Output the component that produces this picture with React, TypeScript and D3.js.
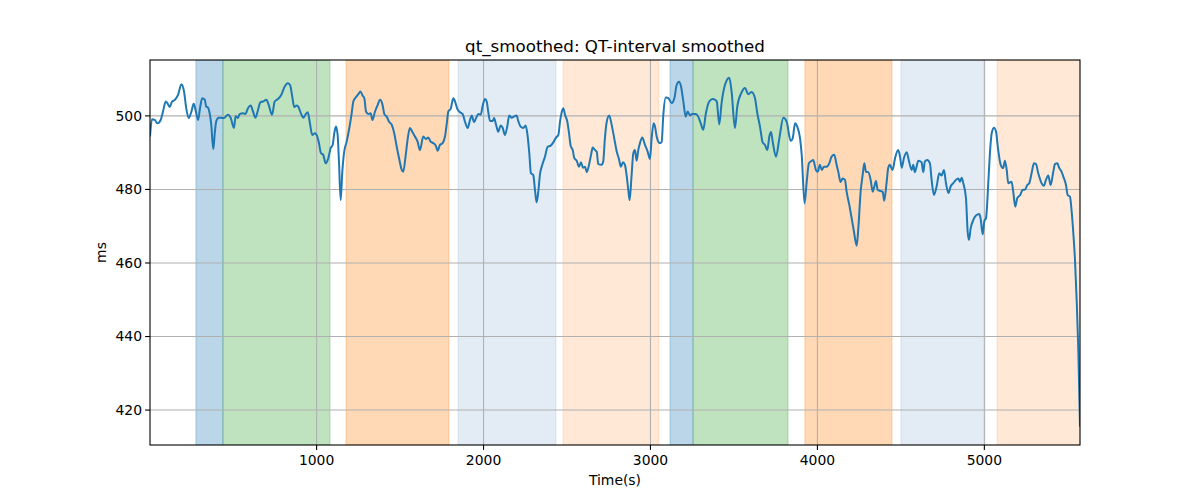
import * as d3 from "d3";

const WIDTH = 1200;
const HEIGHT = 500;
const MARGIN = { top: 60, right: 120, bottom: 55, left: 150 };

// time (s) of each sample of the smoothed QT trace
const times = [
  2, 14, 30, 46, 66, 80, 96, 106, 120, 134, 150, 170, 190, 206, 219, 234, 249, 264, 276, 290,
  303, 315, 330, 339, 349, 361, 369, 381, 390, 399, 414, 429, 445, 469, 485, 505, 515, 529, 539, 559,
  573, 589, 605, 619, 633, 649, 663, 679, 699, 713, 733, 749, 769, 788, 809, 827, 841, 854, 866, 881,
  890, 906, 920, 935, 947, 960, 974, 990, 1004, 1014, 1026, 1040, 1054, 1070, 1084, 1096, 1106, 1116, 1126, 1134,
  1144, 1154, 1164, 1180, 1196, 1210, 1220, 1234, 1250, 1262, 1276, 1286, 1296, 1310, 1324, 1334, 1350, 1366, 1380, 1394,
  1406, 1420, 1434, 1450, 1465, 1480, 1494, 1510, 1519, 1534, 1546, 1559, 1573, 1589, 1605, 1619, 1639, 1655, 1669, 1683,
  1699, 1715, 1725, 1739, 1755, 1769, 1779, 1789, 1803, 1819, 1831, 1843, 1859, 1875, 1889, 1905, 1919, 1929, 1943, 1955,
  1969, 1983, 1995, 2009, 2019, 2028, 2039, 2055, 2063, 2075, 2088, 2103, 2115, 2128, 2142, 2154, 2169, 2182, 2198, 2208,
  2222, 2238, 2252, 2262, 2274, 2284, 2298, 2308, 2318, 2328, 2338, 2352, 2368, 2384, 2402, 2418, 2434, 2448, 2458, 2472,
  2478, 2488, 2502, 2512, 2522, 2534, 2544, 2558, 2572, 2584, 2596, 2608, 2618, 2632, 2644, 2654, 2668, 2678, 2687, 2708,
  2717, 2727, 2738, 2753, 2767, 2783, 2798, 2811, 2823, 2835, 2847, 2857, 2867, 2875, 2887, 2897, 2907, 2917, 2927, 2937,
  2951, 2967, 2983, 2997, 3007, 3019, 3027, 3037, 3047, 3057, 3067, 3077, 3091, 3107, 3127, 3143, 3157, 3171, 3183, 3197,
  3211, 3223, 3237, 3250, 3272, 3286, 3301, 3316, 3332, 3352, 3373, 3386, 3397, 3412, 3426, 3446, 3472, 3486, 3506, 3520,
  3546, 3566, 3586, 3606, 3626, 3640, 3656, 3672, 3686, 3700, 3712, 3722, 3732, 3752, 3772, 3796, 3816, 3840, 3852, 3866,
  3879, 3896, 3906, 3923, 3936, 3949, 3966, 3975, 3991, 4002, 4015, 4026, 4039, 4055, 4071, 4085, 4101, 4115, 4125, 4139,
  4151, 4165, 4175, 4191, 4205, 4219, 4235, 4245, 4259, 4271, 4281, 4291, 4305, 4319, 4331, 4341, 4351, 4361, 4375, 4391,
  4400, 4415, 4424, 4434, 4450, 4465, 4484, 4495, 4505, 4518, 4535, 4548, 4565, 4574, 4584, 4594, 4604, 4624, 4634, 4644,
  4658, 4674, 4684, 4698, 4714, 4730, 4744, 4758, 4770, 4785, 4798, 4814, 4830, 4844, 4854, 4864, 4874, 4890, 4900, 4908,
  4918, 4934, 4950, 4970, 4978, 4990, 5000, 5010, 5024, 5034, 5044, 5058, 5070, 5083, 5098, 5113, 5123, 5134, 5143, 5163,
  5173, 5185, 5197, 5215, 5230, 5243, 5257, 5269, 5283, 5297, 5309, 5323, 5343, 5357, 5369, 5383, 5397, 5413, 5423, 5437,
  5449, 5463, 5473, 5489, 5499, 5513, 5523, 5533, 5543, 5553, 5563, 5573,
];

// QT interval (ms)
const qt = [
  494.4, 499.1, 498.9, 498.0, 498.9, 501.2, 503.9, 503.5, 502.4, 503.9, 504.3, 505.7, 508.6, 506.6, 502.1, 499.4, 501.0, 503.3, 501.4, 498.9,
  502.5, 504.8, 504.4, 502.5, 502.3, 500.3, 497.6, 491.0, 495.3, 498.6, 499.5, 499.5, 499.4, 500.3, 499.5, 496.7, 500.0, 499.4, 500.5, 500.7,
  500.5, 502.1, 502.8, 501.2, 499.5, 501.6, 503.7, 503.9, 504.4, 503.0, 500.3, 503.9, 504.6, 505.7, 508.0, 508.9, 508.4, 505.3, 502.4, 502.8,
  502.5, 500.7, 499.5, 500.5, 501.0, 498.0, 494.8, 495.3, 494.4, 492.6, 489.9, 489.4, 487.1, 488.5, 491.2, 492.1, 495.3, 497.1, 494.8, 487.6,
  477.1, 484.8, 489.9, 493.0, 496.7, 500.7, 503.9, 505.0, 505.9, 506.6, 505.5, 504.8, 501.2, 500.5, 500.7, 498.9, 501.2, 503.0, 504.4, 503.2,
  500.5, 499.8, 498.4, 497.6, 495.3, 491.6, 488.5, 485.3, 484.8, 489.4, 493.9, 496.7, 495.7, 494.4, 493.0, 490.7, 494.4, 493.7, 494.1, 493.0,
  492.6, 491.8, 490.5, 492.1, 492.6, 494.4, 497.6, 501.2, 501.9, 504.8, 503.7, 501.9, 501.0, 500.5, 498.4, 496.7, 498.9, 500.1, 498.3, 499.4,
  500.5, 500.3, 502.8, 504.6, 503.9, 501.2, 498.6, 498.6, 499.4, 497.6, 495.7, 497.4, 496.7, 494.8, 497.1, 500.1, 499.5, 499.8, 500.1, 498.6,
  497.1, 496.7, 497.4, 495.3, 489.9, 484.4, 483.9, 479.9, 476.5, 479.4, 484.1, 486.7, 488.9, 491.6, 491.9, 492.8, 494.1, 494.8, 498.4, 501.6,
  502.1, 500.3, 498.4, 495.3, 491.9, 490.7, 488.5, 487.8, 486.2, 487.4, 485.9, 486.2, 484.7, 486.7, 489.4, 491.4, 490.7, 490.3, 486.9, 486.7,
  487.6, 493.9, 498.4, 500.1, 497.7, 493.9, 490.3, 488.3, 486.2, 487.4, 486.7, 483.9, 479.9, 477.1, 483.9, 489.8, 490.7, 487.8, 490.7, 492.6,
  494.1, 492.1, 490.3, 488.3, 493.9, 498.0, 497.1, 494.4, 493.0, 492.6, 493.0, 500.3, 505.0, 504.8, 503.5, 504.8, 508.4, 509.3, 508.0, 503.9,
  499.8, 501.2, 500.1, 500.5, 500.5, 499.8, 498.0, 496.2, 500.7, 503.9, 504.6, 504.4, 503.9, 497.7, 503.5, 508.4, 510.4, 506.6, 496.7, 502.5,
  506.4, 507.6, 505.9, 506.5, 504.8, 500.7, 497.1, 492.8, 492.1, 490.7, 494.4, 495.6, 493.0, 488.9, 493.9, 499.5, 498.4, 493.2, 493.9, 498.0,
  497.1, 493.9, 489.4, 476.2, 482.1, 487.1, 487.8, 488.0, 485.3, 484.8, 486.7, 485.3, 486.2, 486.2, 487.1, 488.9, 489.4, 486.7, 484.8, 482.0,
  483.0, 482.6, 479.4, 475.8, 472.2, 468.5, 464.7, 469.4, 479.4, 483.9, 487.1, 484.8, 484.7, 482.6, 479.4, 480.8, 482.3, 479.9, 479.6, 479.4,
  476.9, 482.1, 485.8, 486.7, 485.3, 488.5, 490.7, 488.9, 485.9, 488.5, 490.1, 487.8, 485.3, 486.7, 484.7, 486.2, 487.8, 487.4, 484.7, 487.6,
  488.0, 487.1, 482.6, 478.5, 480.8, 484.4, 483.8, 485.3, 481.7, 479.0, 480.8, 481.7, 482.6, 483.0, 482.1, 483.2, 481.7, 477.6, 468.5, 466.3,
  469.4, 471.7, 472.9, 473.3, 472.0, 467.8, 471.4, 472.2, 482.1, 490.3, 495.3, 496.8, 495.7, 490.7, 486.7, 485.8, 487.8, 485.3, 481.7, 482.1,
  479.4, 475.3, 477.6, 478.5, 479.9, 479.9, 481.2, 481.7, 484.4, 487.1, 486.9, 484.4, 481.7, 481.0, 482.6, 483.8, 481.2, 484.8, 486.9, 487.1,
  485.8, 484.8, 483.5, 481.2, 478.5, 478.0, 474.0, 468.1, 460.8, 449.9, 436.3, 415.5,
];

// shaded segments: start, end, kind
const spanStart = [277, 439, 1176, 1847, 2476, 3117, 3255, 3925, 4500, 5076];
const spanEnd = [439, 1080, 1793, 2434, 3051, 3255, 3824, 4447, 5004, 5573];
const spanKind = ["blue", "green", "orange", "paleblue", "paleorange", "blue", "green", "orange", "paleblue", "paleorange"];

const xTicks = [1000, 2000, 3000, 4000, 5000];
const yTicks = [420, 440, 460, 480, 500];

const spanFill: Record<string, string> = {
  blue: "rgba(31,119,180,0.3)",
  green: "rgba(44,160,44,0.3)",
  orange: "rgba(255,127,14,0.3)",
  paleblue: "rgba(70,130,180,0.15)",
  paleorange: "rgba(255,127,14,0.17)",
};

const FONT = "DejaVu Sans, sans-serif";

export default function App() {
  const innerW = WIDTH - MARGIN.left - MARGIN.right;
  const innerH = HEIGHT - MARGIN.top - MARGIN.bottom;

  const x = d3.scaleLinear().domain([2, 5573]).range([0, innerW]);
  const y = d3.scaleLinear().domain([410.5, 515.2]).range([innerH, 0]);

  // the trace is already smoothed, so a monotone curve keeps the peaks round
  const line = d3
    .line<number>()
    .x((_, i) => x(times[i]))
    .y((d) => y(d))
    .curve(d3.curveMonotoneX);

  return (
    <svg
      width={WIDTH}
      height={HEIGHT}
      style={{ position: "absolute", left: 0, top: 0, background: "#fff" }}
    >
      <text x={MARGIN.left + innerW / 2} y={52} textAnchor="middle" fontFamily={FONT} fontSize={16.7}>
        qt_smoothed: QT-interval smoothed
      </text>
      <g transform={`translate(${MARGIN.left},${MARGIN.top})`}>
        <defs>
          <clipPath id="plot">
            <rect width={innerW} height={innerH} />
          </clipPath>
        </defs>
        {spanStart.map((s, i) => (
          <rect
            key={i}
            x={x(s)}
            y={0}
            width={x(spanEnd[i]) - x(s)}
            height={innerH}
            fill={spanFill[spanKind[i]]}
            stroke={spanFill[spanKind[i]]}
            strokeWidth={1}
            clipPath="url(#plot)"
          />
        ))}
        {xTicks.map((t) => (
          <line key={t} x1={x(t)} x2={x(t)} y1={0} y2={innerH} stroke="#b0b0b0" strokeWidth={1.1} />
        ))}
        {yTicks.map((t) => (
          <line key={t} x1={0} x2={innerW} y1={y(t)} y2={y(t)} stroke="#b0b0b0" strokeWidth={1.1} />
        ))}
        <path
          d={line(qt) ?? ""}
          fill="none"
          stroke="#1f77b4"
          strokeWidth={2}
          strokeLinejoin="round"
          clipPath="url(#plot)"
        />
        <rect width={innerW} height={innerH} fill="none" stroke="#000" strokeWidth={1.1} />
        {xTicks.map((t) => (
          <g key={t} transform={`translate(${x(t)},${innerH})`}>
            <line y2={4.9} stroke="#000" strokeWidth={1.1} />
            <text y={19.5} textAnchor="middle" fontFamily={FONT} fontSize={13.9}>
              {t}
            </text>
          </g>
        ))}
        {yTicks.map((t) => (
          <g key={t} transform={`translate(0,${y(t)})`}>
            <line x2={-4.9} stroke="#000" strokeWidth={1.1} />
            <text x={-8} dy="0.35em" textAnchor="end" fontFamily={FONT} fontSize={13.9}>
              {t}
            </text>
          </g>
        ))}
        <text x={innerW / 2} y={innerH + 40} textAnchor="middle" fontFamily={FONT} fontSize={13.9}>
          Time(s)
        </text>
        <text
          transform={`translate(${-44},${innerH / 2}) rotate(-90)`}
          textAnchor="middle"
          fontFamily={FONT}
          fontSize={13.9}
        >
          ms
        </text>
      </g>
    </svg>
  );
}
